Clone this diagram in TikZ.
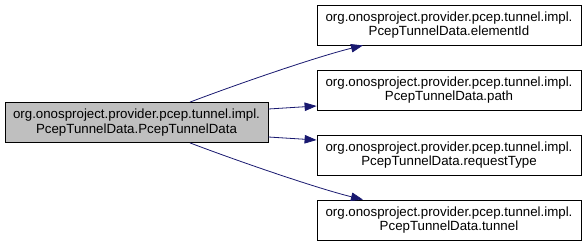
\documentclass[tikz,border=0pt]{standalone}
\usepackage{fontspec}
\setmainfont{Liberation Sans}
\usetikzlibrary{arrows.meta}
\definecolor{edgeblue}{HTML}{191970}
\definecolor{callerfill}{HTML}{BFBFBF}

\begin{document}
\begin{tikzpicture}[
  x=1pt, y=-1pt,
  fn/.style={draw=black, fill=white, line width=0.8pt, minimum width=264pt, minimum height=40pt, inner sep=0pt, align=center, font=\fontsize{13.3}{14.5}\selectfont},
  caller/.style={fn, fill=callerfill, minimum width=263pt},
  call/.style={edgeblue, line width=0.8pt, -{Triangle[length=12pt, width=8.5pt]}}
]
\useasboundingbox (0,0) rectangle (587,247);

% ---- caller ----
\node[caller] (pcd) at (136.5,122.5) {org.onosproject.provider.pcep.tunnel.impl.\\PcepTunnelData.PcepTunnelData};

% ---- callees ----
\foreach \n/\y/\t in {elem/25/elementId, path/90/path, reqtype/155/requestType, tunnel/220/tunnel} {
  \node[fn] (\n) at (449,\y) {org.onosproject.provider.pcep.tunnel.impl.\\PcepTunnelData.\t};
}

% ---- calls ----
% outer two leave through the top / bottom edge and bend in
\draw[call] ([xshift=53.5pt]pcd.north) .. controls +(50,-19) and +(-45,11) .. ([xshift=-86pt]elem.south);
\draw[call] ([xshift=53.5pt]pcd.south) .. controls +(50,19) and +(-45,-11) .. ([xshift=-86pt]tunnel.north);
% inner two are nearly straight
\draw[call] ([yshift=13.5pt]pcd.east) -- ([yshift=-16pt]path.west);
\draw[call] ([yshift=-14.5pt]pcd.east) -- ([yshift=15pt]reqtype.west);
\end{tikzpicture}
\end{document}
